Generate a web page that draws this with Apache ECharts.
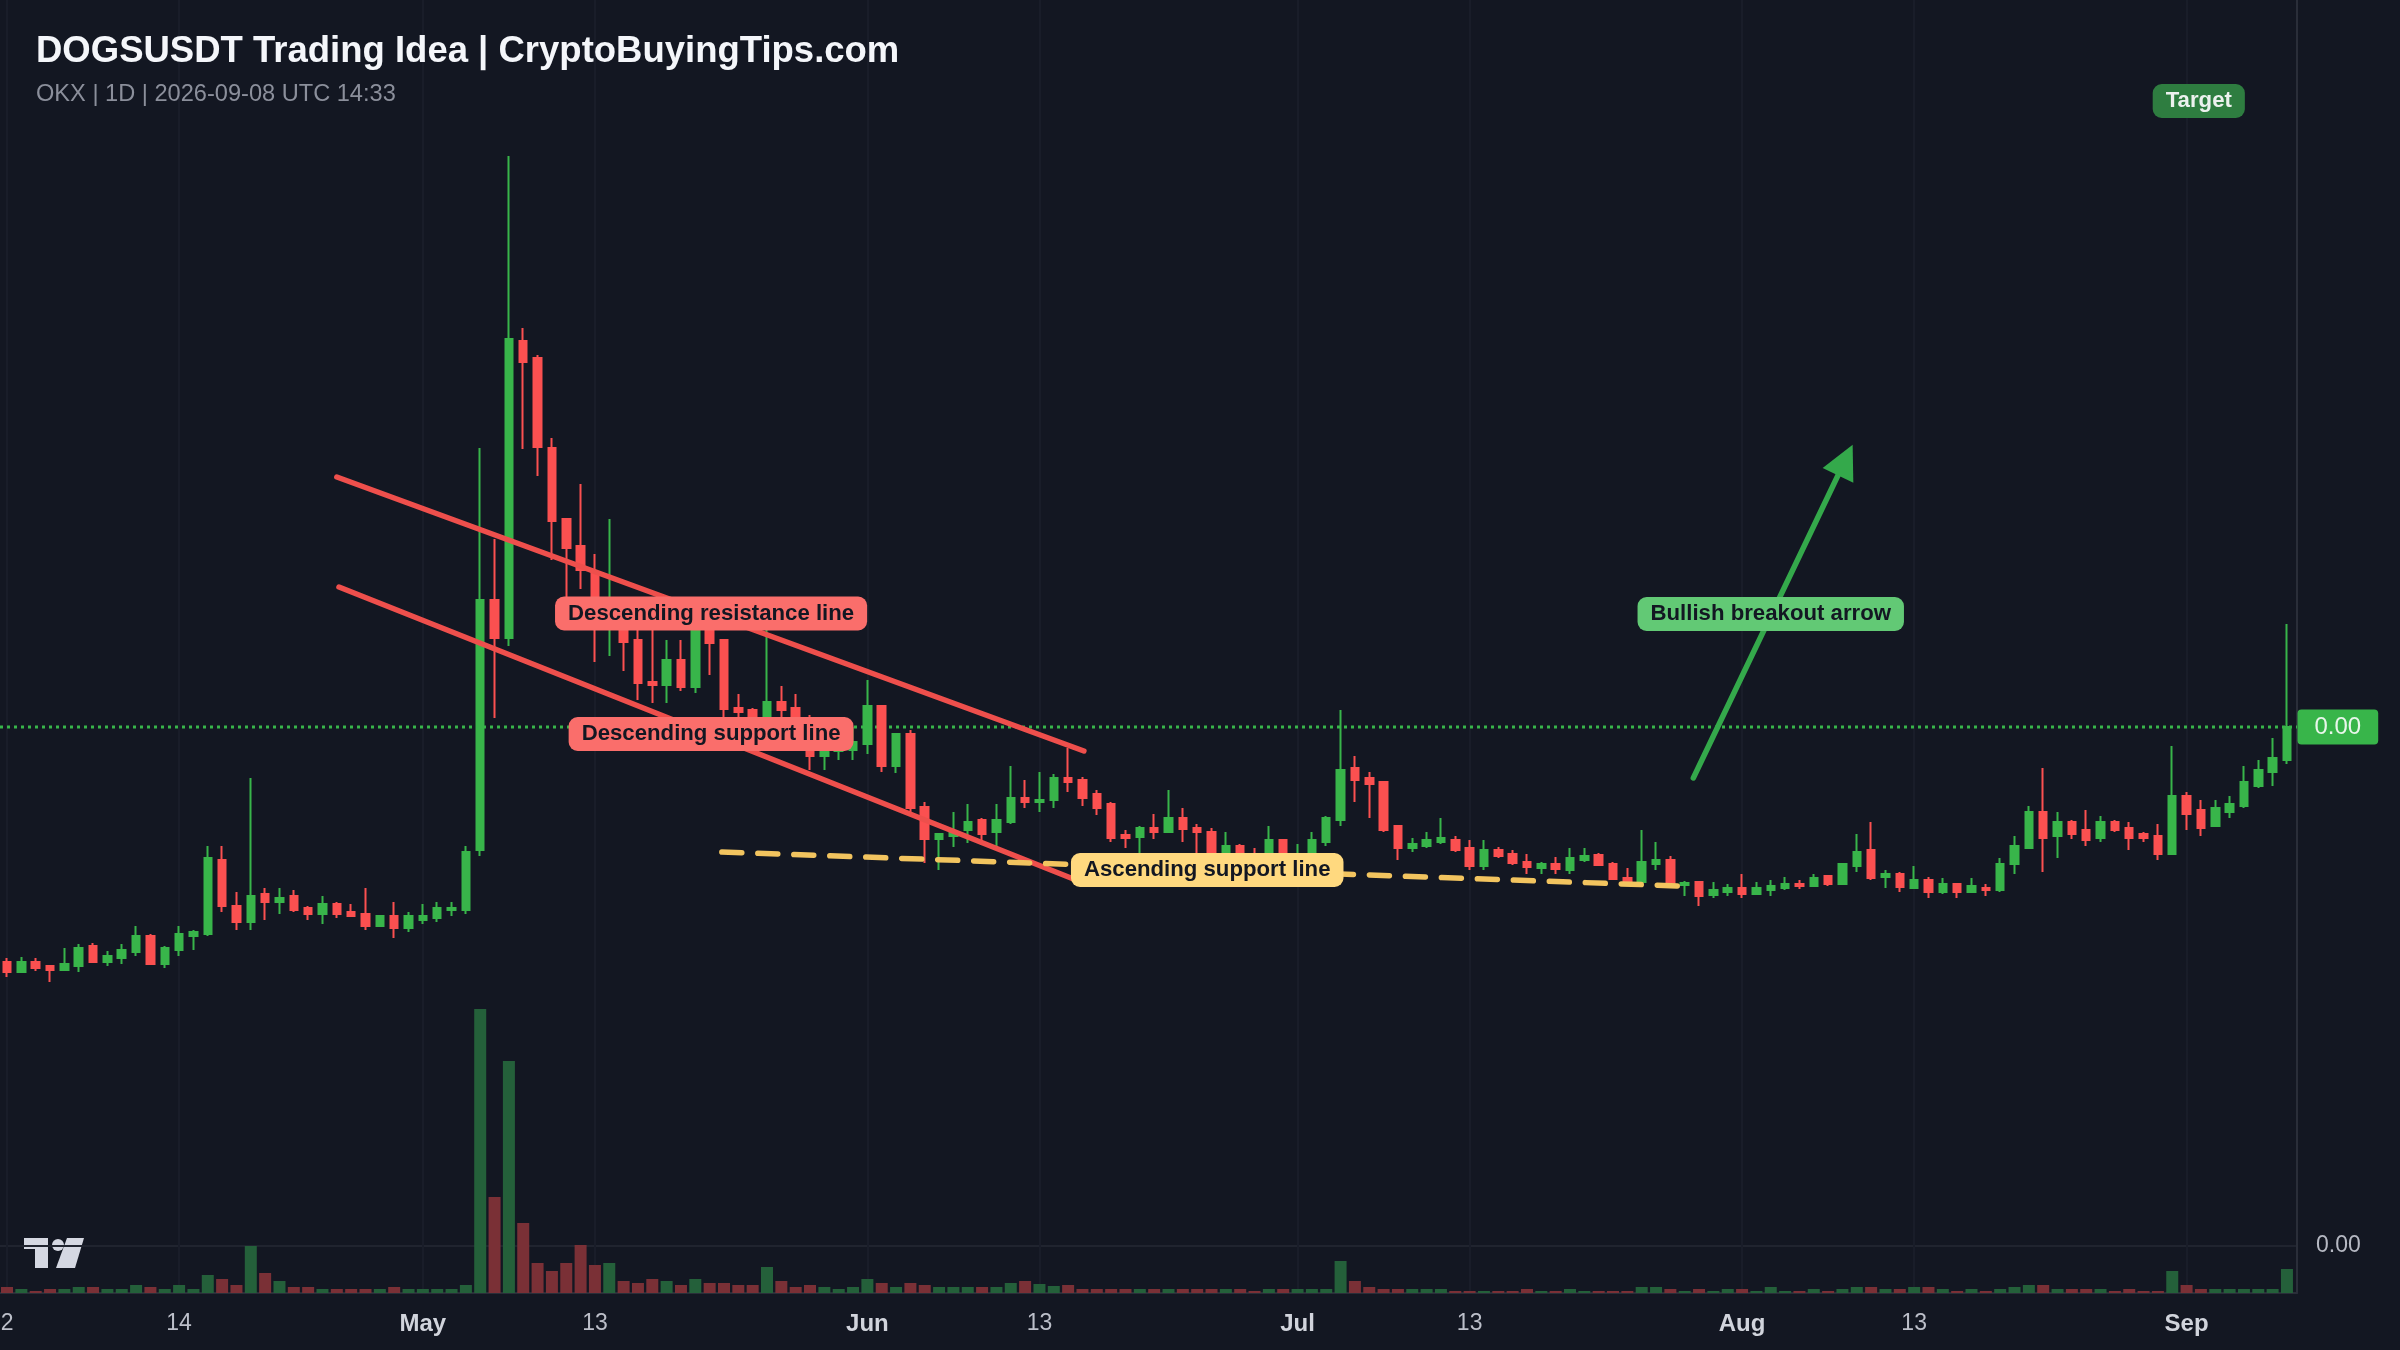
<!DOCTYPE html>
<html lang="en">
<head>
    <meta charset="UTF-8">
    <title>DOGSUSDT Trading Idea</title>
    <script src="https://cdn.jsdelivr.net/npm/echarts@6.0.0/dist/echarts.min.js"></script>
    <style>
        html, body { margin: 0; padding: 0; background: #131722; }
    </style>
</head>
<body>
    <div id="main" style="width: 2400px; height: 1350px;"></div>

    <script>
        // prices are in 1e-7 USDT; day 0 = 2 Apr, day 159 = 8 Sep
        const opens = [38,28,38,34,30,34,54,38,42,48,64,36,50,64,66,140,94,78,106,98,
            104,92,86,96,88,86,74,84,72,80,82,90,90,150,400,362,659,642,552,481,
            454,427,375,390,360,318,315,340,313,385,360,292,290,265,298,292,275,244,249,250,
            256,294,234,266,193,161,164,170,180,168,178,202,198,200,222,220,206,196,165,163,
            172,168,182,172,168,140,154,144,138,160,138,142,158,180,232,222,218,174,152,154,
            158,160,152,134,150,146,138,132,136,130,140,145,136,122,118,136,140,115,118,105,
            108,112,106,110,112,116,114,124,116,134,150,123,126,112,120,108,116,108,112,110,
            136,152,188,164,178,170,162,178,172,166,164,146,204,190,174,188,194,214,228,240];
        const closes = [28,38,32,30,36,52,38,44,50,64,36,52,66,68,142,94,78,104,98,102,
            90,86,96,86,84,74,84,72,84,84,92,92,148,400,362,661,638,553,479,452,
            430,375,395,358,317,315,340,313,380,357,291,288,275,298,290,265,244,255,255,258,
            294,234,266,192,161,166,167,178,166,180,202,198,200,222,218,202,192,162,162,172,
            168,182,171,168,142,154,140,138,160,138,144,160,182,230,220,216,170,152,156,160,
            162,150,134,150,144,137,133,136,131,142,144,135,121,117,138,140,115,117,104,110,
            112,106,112,114,116,114,122,116,136,148,122,126,113,120,108,116,108,114,110,136,
            154,188,162,178,166,160,178,170,162,162,146,204,186,172,192,196,218,230,242,273];
        const lows = [23,28,29,18,30,28,38,34,36,44,35,32,44,50,64,88,70,70,80,86,
            88,80,76,82,84,70,74,62,68,76,78,84,86,144,282,354,551,524,440,395,
            411,338,344,329,300,297,297,309,307,325,283,275,270,255,275,255,230,230,240,240,
            246,228,227,185,137,130,153,157,155,153,176,192,188,192,208,194,185,158,152,147,
            161,168,158,145,140,138,136,134,136,134,134,138,154,174,198,182,168,140,148,152,
            156,148,130,130,142,135,126,126,126,126,138,134,120,115,117,130,113,104,94,102,
            104,102,106,104,110,111,114,114,116,128,120,112,108,112,102,106,102,108,104,108,
            126,152,128,142,161,154,158,168,150,158,140,146,170,164,174,182,192,212,214,236];
        const highs = [42,43,42,34,52,56,57,49,56,74,66,54,74,70,154,154,108,222,112,112,
            110,94,104,98,96,112,84,98,88,96,98,98,154,552,461,844,672,645,562,482,
            516,446,481,400,375,380,360,360,395,395,360,306,292,390,314,306,285,270,265,273,
            320,294,266,270,198,167,188,196,182,196,234,220,228,226,252,223,210,198,170,174,
            186,210,192,176,172,168,156,152,174,160,156,168,184,290,244,228,219,175,162,168,
            182,164,160,160,153,150,146,138,143,152,152,147,138,132,170,158,144,119,118,118,
            116,126,118,120,123,120,126,124,137,166,178,130,128,134,123,122,116,122,116,142,
            164,194,232,188,180,190,184,180,178,168,176,254,208,200,200,204,234,240,262,376];
        const volumes = [6,4,2,4,4,6,6,4,4,8,6,4,8,4,18,14,8,47,20,12,
            6,6,4,4,4,4,4,6,4,4,4,4,8,284,96,232,70,30,22,30,
            48,28,30,12,10,14,12,8,14,10,10,8,8,26,12,6,8,6,4,6,
            14,10,6,10,8,6,6,6,6,6,10,12,9,7,8,4,4,4,4,4,
            4,4,4,4,4,4,4,2,4,4,4,4,4,32,12,6,4,4,4,4,
            4,2,2,2,2,2,4,2,2,4,2,2,2,2,6,6,4,2,4,2,
            4,4,2,6,2,2,4,2,4,6,6,4,4,6,6,4,2,4,2,4,
            6,8,8,4,4,4,4,2,4,2,2,22,8,4,4,4,4,4,4,24];

        const tickDays = [0, 12, 29, 41, 60, 72, 90, 102, 121, 133, 152];
        const tickLabels = ['2', '14', 'May', '13', 'Jun', '13', 'Jul', '13', 'Aug', '13', 'Sep'];

        const resistanceLine = [[23.0, 523], [75.1, 249]];
        const supportLine = [[23.15, 413], [75.25, 116]];
        const ascendingLine = [[49.85, 148], [116.7, 114]];
        const breakoutArrow = [[117.6, 222], [128.2, 540]];

        const noteTexts = ['Descending resistance line', 'Descending support line', 'Ascending support line', 'Bullish breakout arrow', 'Target'];
        const noteDays = [49.1, 49.1, 83.7, 123.0, 152.85];
        const notePrices = [386.5, 266, 130, 386, 899];
        const noteColors = ['#fa6e6b', '#fa6e6b', '#ffd97f', '#62c975', '#2e7d40'];
        const noteInks = ['#131722', '#131722', '#131722', '#131722', '#ecf1ee'];

        const dayMin = -0.49, dayMax = 159.7;
        const priceUnit = 1e-7;
        const GREEN = '#38b54a', RED = '#fb5050';
        const FONT = '"Liberation Sans", Arial, sans-serif';

        let chart = echarts.init(document.getElementById('main'));

        let candles = opens.map((o, i) => [i, o, closes[i], lows[i], highs[i]]);
        let volumeBars = volumes.map((v, i) => ({
            value: [i, v],
            itemStyle: { color: closes[i] >= opens[i] ? '#24603a' : '#7a3036' }
        }));
        let lastClose = closes[closes.length - 1];

        function trendSeries(points, color, dash) {
            return {
                type: 'line',
                data: points,
                symbol: 'none',
                z: 5,
                silent: true,
                lineStyle: { color: color, width: 5.5, cap: 'round', type: dash || 'solid' }
            };
        }

        let option = {
            backgroundColor: '#131722',
            animation: false,
            title: {
                text: 'DOGSUSDT Trading Idea | CryptoBuyingTips.com',
                subtext: 'OKX | 1D | 2026-09-08 UTC 14:33',
                left: 36,
                top: 33,
                padding: 0,
                itemGap: 12,
                textStyle: { color: '#f4f6fa', fontFamily: FONT, fontSize: 36.5, fontWeight: 'bold' },
                subtextStyle: { color: '#8b8f9b', fontFamily: FONT, fontSize: 23.6 }
            },
            grid: [
                { left: 0, right: 103, top: 0, height: 1000, outerBoundsMode: 'none' },
                { left: 0, right: 103, top: 1000, height: 293, outerBoundsMode: 'none' }
            ],
            xAxis: [
                {
                    type: 'value', gridIndex: 0, min: dayMin, max: dayMax, scale: true,
                    axisLine: { show: false },
                    axisTick: { show: false, customValues: tickDays },
                    axisLabel: { show: false, customValues: tickDays },
                    splitLine: { show: true, lineStyle: { color: '#191d29', width: 2 } }
                },
                {
                    type: 'value', gridIndex: 1, min: dayMin, max: dayMax, scale: true,
                    axisLine: { show: true, onZero: false, lineStyle: { color: '#2a2e39', width: 2 } },
                    axisTick: { show: false, customValues: tickDays },
                    axisLabel: {
                        show: true,
                        customValues: tickDays,
                        margin: 19,
                        hideOverlap: false,
                        showMinLabel: true,
                        showMaxLabel: true,
                        formatter: function (value) {
                            let text = tickLabels[tickDays.indexOf(value)];
                            return /\d/.test(text) ? '{d|' + text + '}' : '{m|' + text + '}';
                        },
                        rich: {
                            d: { color: '#bcbfc9', fontFamily: FONT, fontSize: 23 },
                            m: { color: '#d1d4dc', fontFamily: FONT, fontSize: 24, fontWeight: 'bold' }
                        }
                    },
                    splitLine: { show: true, lineStyle: { color: '#191d29', width: 2 } }
                }
            ],
            yAxis: [
                {
                    type: 'value', gridIndex: 0, position: 'right', min: 0, max: 1000,
                    axisLine: { show: true, onZero: false, lineStyle: { color: '#2a2e39', width: 2 } },
                    axisTick: { show: false },
                    axisLabel: { show: false },
                    splitLine: { show: false }
                },
                {
                    type: 'value', gridIndex: 1, position: 'right', min: 0, max: 293,
                    axisLine: { show: true, onZero: false, lineStyle: { color: '#2a2e39', width: 2 } },
                    axisTick: { show: false, customValues: [47] },
                    axisLabel: {
                        show: true,
                        customValues: [47],
                        margin: 19,
                        color: '#b6b9c3',
                        fontFamily: FONT,
                        fontSize: 23,
                        formatter: v => (v * priceUnit).toFixed(2)
                    },
                    splitLine: { show: true, lineStyle: { color: '#20242f', width: 2 } }
                }
            ],
            series: [
                // last price line, behind the candles
                {
                    type: 'line',
                    z: 1,
                    symbol: 'none',
                    silent: true,
                    lineStyle: { color: GREEN, width: 3, type: [3, 4] },
                    data: [[dayMin, lastClose], [dayMax, lastClose]]
                },
                {
                    type: 'candlestick',
                    z: 3,
                    xAxisIndex: 0,
                    yAxisIndex: 0,
                    barWidth: 8,
                    encode: { x: 0, y: [1, 2, 3, 4] },
                    itemStyle: {
                        color: GREEN,
                        color0: RED,
                        borderColor: GREEN,
                        borderColor0: RED,
                        borderWidth: 2
                    },
                    data: candles
                },
                {
                    type: 'bar',
                    z: 2,
                    xAxisIndex: 1,
                    yAxisIndex: 1,
                    barWidth: 12,
                    silent: true,
                    data: volumeBars
                },
                trendSeries(resistanceLine, '#ee4f4c'),
                trendSeries(supportLine, '#ee4f4c'),
                trendSeries(ascendingLine, '#f2c45f', [20, 16]),
                {
                    type: 'line',
                    data: [],
                    z: 5,
                    silent: true,
                    markLine: {
                        silent: true,
                        animation: false,
                        symbol: ['none', 'triangle'],
                        symbolSize: 34,
                        label: { show: false },
                        lineStyle: { color: '#34a94b', width: 5.5, type: 'solid', cap: 'round' },
                        data: [[{ coord: breakoutArrow[0] }, { coord: breakoutArrow[1] }]]
                    }
                },
                // note boxes
                {
                    type: 'scatter',
                    z: 8,
                    silent: true,
                    symbolSize: 1,
                    itemStyle: { color: 'rgba(0,0,0,0)', opacity: 1 },
                    data: noteTexts.map((text, i) => ({
                        value: [noteDays[i], notePrices[i]],
                        label: {
                            show: true,
                            position: 'inside',
                            formatter: text,
                            opacity: 1,
                            color: noteInks[i],
                            fontFamily: FONT,
                            fontWeight: 'bold',
                            fontSize: 22.2,
                            backgroundColor: noteColors[i],
                            borderRadius: 9,
                            padding: [6, 13, 6, 13]
                        }
                    }))
                },
                // last price tag on the scale
                {
                    type: 'scatter',
                    z: 8,
                    silent: true,
                    symbolSize: 1,
                    clip: false,
                    itemStyle: { color: 'rgba(0,0,0,0)', opacity: 1 },
                    data: [{
                        value: [dayMax, lastClose],
                        label: {
                            show: true,
                            position: 'right',
                            distance: 0,
                            opacity: 1,
                            formatter: () => (lastClose * priceUnit).toFixed(2),
                            color: '#e9f6eb',
                            fontFamily: FONT,
                            fontSize: 24,
                            backgroundColor: GREEN,
                            borderRadius: 4,
                            padding: [6, 17, 5, 17]
                        }
                    }]
                }
            ],
            graphic: [
                // TradingView mark
                {
                    type: 'group', z: 10, silent: true,
                    children: [
                        { type: 'polygon', shape: { points: [[24, 1238], [48, 1238], [48, 1268], [35, 1268], [35, 1249], [24, 1249]] }, style: { fill: '#d5d8e2' } },
                        { type: 'circle', shape: { cx: 58, cy: 1245, r: 6 }, style: { fill: '#d5d8e2' } },
                        { type: 'polygon', shape: { points: [[67, 1238], [84, 1238], [75, 1268], [56, 1268]] }, style: { fill: '#d5d8e2' } }
                    ]
                }
            ]
        };

        chart.setOption(option);
    </script>
</body>
</html>
